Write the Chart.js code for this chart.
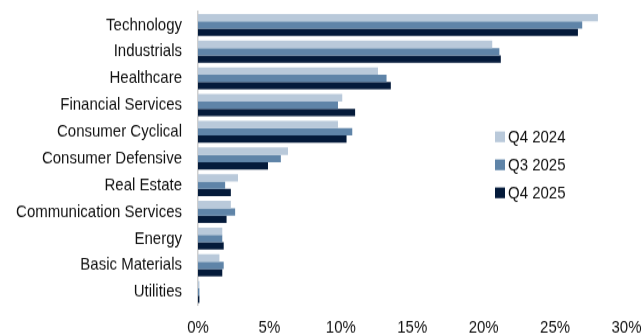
<!DOCTYPE html>
<html>
<head>
<meta charset="utf-8">
<script src="https://cdn.jsdelivr.net/npm/chart.js@4"></script>
<style>
html,body{margin:0;padding:0;background:#fff;width:644px;height:335px;}
#outer{width:644px;height:335px;position:relative;}
#wrap{position:absolute;left:0;top:0;width:644px;height:287px;transform:scale(1,1.1672);transform-origin:0 0;}
</style>
</head>
<body>
<div id="outer"><div id="wrap"><canvas id="c" width="644" height="287"></canvas></div></div>
<script>
const categories = ["Technology","Industrials","Healthcare","Financial Services","Consumer Cyclical","Consumer Defensive","Real Estate","Communication Services","Energy","Basic Materials","Utilities"];
const seriesNames = ["Q4 2024","Q3 2025","Q4 2025"];
const q4_2024 = [28.0, 20.6, 12.6, 10.1, 9.8, 6.3, 2.8, 2.3, 1.7, 1.5, 0.1];
const q3_2025 = [26.9, 21.1, 13.2, 9.8, 10.8, 5.8, 1.9, 2.6, 1.7, 1.8, 0.1];
const q4_2025 = [26.6, 21.2, 13.5, 11.0, 10.4, 4.9, 2.3, 2.0, 1.8, 1.7, 0.1];
const xTicks = [0,5,10,15,20,25,30];
const colors = ["#b9c9da","#5f84a8","#041a3a"];

const FONT = "'Liberation Sans', Arial, sans-serif";

const legendPlugin = {
  id: 'customLegend',
  afterDraw(chart) {
    const ctx = chart.ctx;
    ctx.save();
    ctx.font = "15px " + FONT;
    ctx.textBaseline = 'middle';
    ctx.textAlign = 'left';
    const x0 = 495, y0 = 117.2, step = 24;
    chart.data.datasets.forEach((ds, i) => {
      const y = y0 + i * step;
      ctx.fillStyle = ds.backgroundColor;
      ctx.fillRect(x0, y - 4.6, 10, 9.2);
      ctx.fillStyle = '#111';
      ctx.fillText(ds.label, x0 + 13, y + 1);
    });
    ctx.restore();
  }
};

function zeroPad(scale) {
  scale.paddingTop = 0; scale.paddingBottom = 0;
  scale.paddingLeft = 0; scale.paddingRight = 0;
}

new Chart(document.getElementById('c'), {
  type: 'bar',
  data: {
    labels: categories,
    datasets: [
      {label: seriesNames[0], data: q4_2024, backgroundColor: colors[0]},
      {label: seriesNames[1], data: q3_2025, backgroundColor: colors[1]},
      {label: seriesNames[2], data: q4_2025, backgroundColor: colors[2]}
    ]
  },
  options: {
    indexAxis: 'y',
    responsive: false,
    animation: false,
    devicePixelRatio: 1,
    layout: {padding: {top: 10, right: 17.5, left: 0, bottom: 0}},
    datasets: {bar: {categoryPercentage: 0.825, barPercentage: 1, borderWidth: 0}},
    plugins: {legend: {display: false}, tooltip: {enabled: false}},
    scales: {
      x: {
        min: 0, max: 30,
        afterBuildTicks(scale) { scale.ticks = xTicks.map(v => ({value: v})); },
        afterFit(scale) { scale.height = 25.4; zeroPad(scale); },
        grid: {display: false, drawTicks: false},
        border: {display: false},
        ticks: {
          padding: 10.4,
          color: '#111',
          font: {family: FONT, size: 15},
          callback: v => v + '%'
        }
      },
      y: {
        afterFit(scale) { scale.width = 198; zeroPad(scale); },
        grid: {display: false, drawTicks: false},
        border: {display: true, color: '#d0d0d0', width: 1.5},
        ticks: {
          padding: 16,
          color: '#111',
          autoSkip: false,
          font: {family: FONT, size: 15}
        }
      }
    }
  },
  plugins: [legendPlugin]
});
</script>
</body>
</html>
